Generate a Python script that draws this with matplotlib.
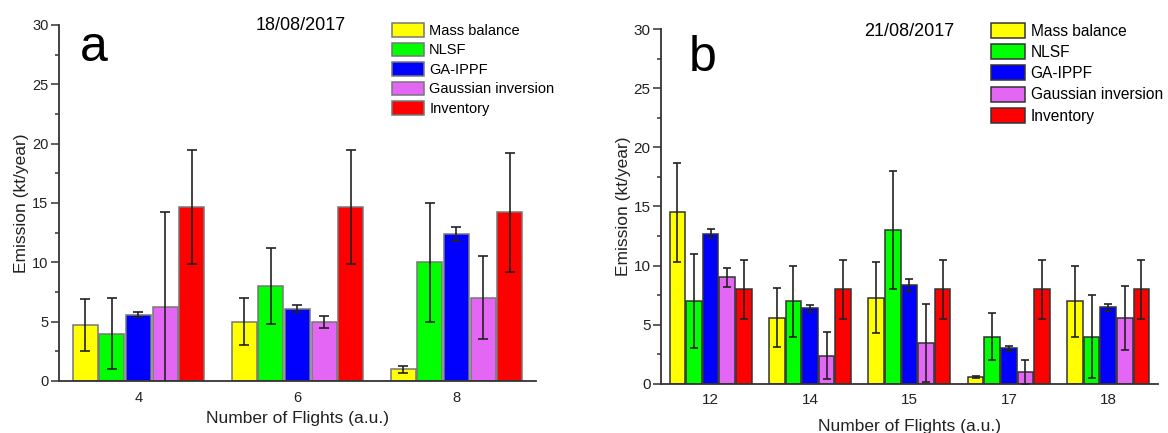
import matplotlib
matplotlib.use('Agg')
import matplotlib.pyplot as plt
import numpy as np
from matplotlib.patches import Patch
from matplotlib.ticker import MultipleLocator

plt.rcParams['font.family'] = ['Liberation Sans', 'DejaVu Sans']

methods = ['Mass balance', 'NLSF', 'GA-IPPF', 'Gaussian inversion', 'Inventory']
colors = ['#FFFF00', '#00FF00', '#0000FF', '#E366F5', '#FF0000']

# ---------------- Panel a: 18/08/2017 ----------------
flights_a = ['4', '6', '8']
date_a = '18/08/2017'
mass_balance_a = [4.7, 5.0, 1.0]
mass_balance_a_lo = [2.5, 3.0, 0.7]
mass_balance_a_hi = [6.9, 7.0, 1.3]
nlsf_a = [4.0, 8.0, 10.0]
nlsf_a_lo = [1.0, 4.8, 5.0]
nlsf_a_hi = [7.0, 11.2, 15.0]
ga_ippf_a = [5.6, 6.1, 12.4]
ga_ippf_a_lo = [5.4, 5.8, 11.8]
ga_ippf_a_hi = [5.8, 6.4, 13.0]
gaussian_a = [6.2, 5.0, 7.0]
gaussian_a_lo = [-1.8, 4.5, 3.5]
gaussian_a_hi = [14.2, 5.5, 10.5]
inventory_a = [14.7, 14.7, 14.2]
inventory_a_lo = [9.9, 9.9, 9.2]
inventory_a_hi = [19.5, 19.5, 19.2]

# ---------------- Panel b: 21/08/2017 ----------------
flights_b = ['12', '14', '15', '17', '18']
date_b = '21/08/2017'
mass_balance_b = [14.5, 5.6, 7.3, 0.6, 7.0]
mass_balance_b_lo = [10.3, 3.1, 4.3, 0.5, 4.0]
mass_balance_b_hi = [18.7, 8.1, 10.3, 0.7, 10.0]
nlsf_b = [7.0, 7.0, 13.0, 4.0, 4.0]
nlsf_b_lo = [3.0, 4.0, 8.0, 2.0, 0.5]
nlsf_b_hi = [11.0, 10.0, 18.0, 6.0, 7.5]
ga_ippf_b = [12.7, 6.4, 8.4, 3.0, 6.5]
ga_ippf_b_lo = [12.3, 6.1, 7.9, 2.8, 6.2]
ga_ippf_b_hi = [13.1, 6.7, 8.9, 3.2, 6.8]
gaussian_b = [9.0, 2.4, 3.5, 1.0, 5.6]
gaussian_b_lo = [8.2, 0.4, 0.2, 0.0, 2.9]
gaussian_b_hi = [9.8, 4.4, 6.8, 2.0, 8.3]
inventory_b = [8.0, 8.0, 8.0, 8.0, 8.0]
inventory_b_lo = [5.5, 5.5, 5.5, 5.5, 5.5]
inventory_b_hi = [10.5, 10.5, 10.5, 10.5, 10.5]


def draw(ax, cats, vals, lows, highs, edge, capsize, tick_fs, tick_pad, xlabelpad):
    x = np.arange(len(cats))
    width, step = 0.157, 0.167
    for i, (v, lo, hi, c) in enumerate(zip(vals, lows, highs, colors)):
        v = np.asarray(v, float)
        lo = np.asarray(lo, float)
        hi = np.asarray(hi, float)
        pos = x + (i - 2) * step
        ax.bar(pos, v, width, color=c, edgecolor=edge, linewidth=1.1, zorder=2)
        ax.errorbar(pos, v, yerr=[v - lo, hi - v], fmt='none', ecolor='#222222',
                    elinewidth=1.2, capsize=capsize, capthick=1.2, zorder=3)
    ax.set_xlim(-0.5, len(cats) - 0.5)
    ax.set_ylim(0, 30)
    ax.set_xticks(x, cats)
    ax.yaxis.set_major_locator(MultipleLocator(5))
    ax.yaxis.set_minor_locator(MultipleLocator(2.5))
    ax.tick_params(axis='x', length=0, pad=tick_pad, labelsize=tick_fs, labelcolor='#222222')
    ax.tick_params(axis='y', which='major', direction='out', length=6, width=1.1,
                   pad=1.5, labelsize=tick_fs, labelcolor='#222222', color='#333333')
    ax.tick_params(axis='y', which='minor', direction='out', length=3, width=1.1, color='#333333')
    for s in ['top', 'right']:
        ax.spines[s].set_visible(False)
    for s in ['left', 'bottom']:
        ax.spines[s].set_linewidth(1.3)
        ax.spines[s].set_color('#333333')
    ax.set_xlabel('Number of Flights (a.u.)', fontsize=12.5, labelpad=xlabelpad, color='#222222')
    ax.set_ylabel('Emission (kt/year)', fontsize=12.5, labelpad=2, color='#222222')


fig = plt.figure(figsize=(11.68, 4.33), dpi=100)
ax_a = fig.add_axes([0.0505, 0.1201, 0.4084, 0.8222])
ax_b = fig.add_axes([0.5659, 0.1132, 0.4255, 0.8198])

draw(ax_a, flights_a,
     [mass_balance_a, nlsf_a, ga_ippf_a, gaussian_a, inventory_a],
     [mass_balance_a_lo, nlsf_a_lo, ga_ippf_a_lo, gaussian_a_lo, inventory_a_lo],
     [mass_balance_a_hi, nlsf_a_hi, ga_ippf_a_hi, gaussian_a_hi, inventory_a_hi],
     edge='#777777', capsize=3.6, tick_fs=10.5, tick_pad=7, xlabelpad=4.5)
draw(ax_b, flights_b,
     [mass_balance_b, nlsf_b, ga_ippf_b, gaussian_b, inventory_b],
     [mass_balance_b_lo, nlsf_b_lo, ga_ippf_b_lo, gaussian_b_lo, inventory_b_lo],
     [mass_balance_b_hi, nlsf_b_hi, ga_ippf_b_hi, gaussian_b_hi, inventory_b_hi],
     edge='#333333', capsize=3.0, tick_fs=11, tick_pad=6.5, xlabelpad=8.5)

W, H = 1168.0, 433.0
fig.text(80 / W, 1 - 61 / H, 'a', fontsize=36, va='baseline', ha='left')
fig.text(689 / W, 1 - 71 / H, 'b', fontsize=36, va='baseline', ha='left')
fig.text(301 / W, 1 - 26 / H, date_a, fontsize=13, ha='center', va='center')
fig.text(909 / W, 1 - 31 / H, date_b, fontsize=13, ha='center', va='center')

handles_a = [Patch(facecolor=c, edgecolor='#777777', linewidth=1.1) for c in colors]
handles_b = [Patch(facecolor=c, edgecolor='#333333', linewidth=1.1) for c in colors]
fig.legend(handles_a, methods, loc='upper left', bbox_to_anchor=(392 / W, 1 - 23 / H),
           frameon=False, borderpad=0, borderaxespad=0, handlelength=2.2,
           handleheight=1.05, handletextpad=0.35, labelspacing=0.33, fontsize=10.5)
fig.legend(handles_b, methods, loc='upper left', bbox_to_anchor=(991 / W, 1 - 23 / H),
           frameon=False, borderpad=0, borderaxespad=0, handlelength=2.2,
           handleheight=1.1, handletextpad=0.35, labelspacing=0.35, fontsize=11.2)

fig.savefig('out.png', dpi=100)
